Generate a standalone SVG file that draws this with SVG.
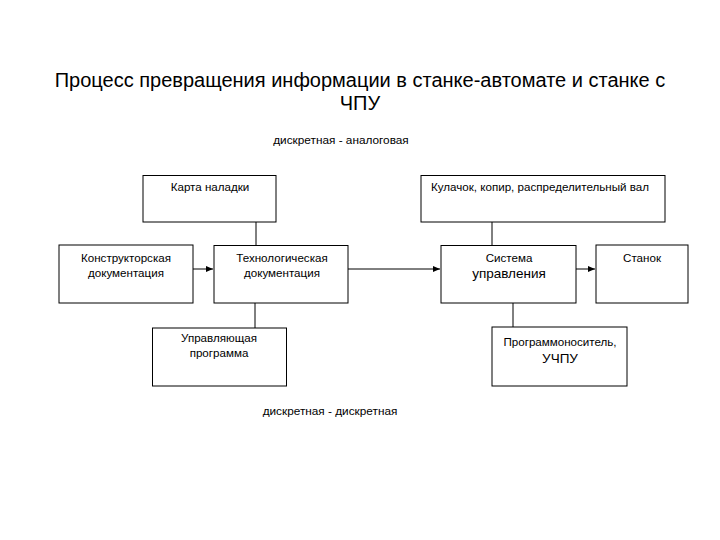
<svg xmlns="http://www.w3.org/2000/svg" width="720" height="540" viewBox="0 0 720 540">
<style>
  .box { fill: #fff; stroke: #000; stroke-width: 1; }
  .t { font-family: "Liberation Sans", Arial, sans-serif; font-size: 11.6px; fill: #000; text-anchor: middle; }
  .lbl { font-family: "Liberation Sans", Arial, sans-serif; font-size: 11.8px; fill: #000; text-anchor: middle; }
  .tl { font-family: "Liberation Sans", Arial, sans-serif; font-size: 13.5px; fill: #000; text-anchor: middle; }
  .title { font-family: "Liberation Sans", Arial, sans-serif; font-size: 20px; fill: #000; text-anchor: middle; }
  .c { stroke: #000; stroke-width: 1; fill: none; }
</style>
<defs>
  <marker id="arr" markerWidth="8" markerHeight="8" refX="7" refY="4" orient="auto" markerUnits="userSpaceOnUse">
    <path d="M0,1 L7,4 L0,7 Z" fill="#000"/>
  </marker>
</defs>
<rect width="720" height="540" fill="#fff"/>
<text class="title" x="360" y="87">Процесс превращения информации в станке-автомате и станке с</text>
<text class="title" x="360" y="110">ЧПУ</text>
<text class="lbl" x="341" y="144">дискретная - аналоговая</text>
<text class="lbl" x="330" y="415">дискретная - дискретная</text>

<g id="connectors">
  <line class="c" x1="256" y1="222" x2="256" y2="246"/>
  <line class="c" x1="193" y1="269" x2="213" y2="269" marker-end="url(#arr)"/>
  <line class="c" x1="255" y1="303" x2="255" y2="328"/>
  <line class="c" x1="348" y1="269" x2="440" y2="269" marker-end="url(#arr)"/>
  <line class="c" x1="492" y1="222" x2="492" y2="246"/>
  <line class="c" x1="576" y1="269" x2="595" y2="269" marker-end="url(#arr)"/>
  <line class="c" x1="513" y1="303" x2="513" y2="327"/>
</g>

<g id="karta">
  <rect class="box" x="143" y="175.5" width="133" height="46.5"/>
  <text class="t" x="210" y="191">Карта наладки</text>
</g>
<g id="kulachok">
  <rect class="box" x="421" y="175.5" width="244" height="46.5"/>
  <text class="t" x="540" y="191">Кулачок, копир, распределительный вал</text>
</g>
<g id="konstr">
  <rect class="box" x="59" y="245" width="134" height="58"/>
  <text class="t" x="126" y="262">Конструкторская</text>
  <text class="t" x="126" y="277">документация</text>
</g>
<g id="tech">
  <rect class="box" x="214" y="245.5" width="134" height="57.5"/>
  <text class="t" x="282" y="262">Технологическая</text>
  <text class="t" x="282" y="277">документация</text>
</g>
<g id="sistema">
  <rect class="box" x="441" y="245.5" width="135" height="57.5"/>
  <text class="t" x="509" y="262">Система</text>
  <text class="tl" x="509" y="278">управления</text>
</g>
<g id="stanok">
  <rect class="box" x="596" y="245" width="92" height="58"/>
  <text class="t" x="642" y="262">Станок</text>
</g>
<g id="upr">
  <rect class="box" x="152.5" y="328" width="134" height="58"/>
  <text class="t" x="219" y="342">Управляющая</text>
  <text class="t" x="219" y="357">программа</text>
</g>
<g id="prog">
  <rect class="box" x="492" y="327" width="135" height="59"/>
  <text class="t" x="560" y="346">Программоноситель,</text>
  <text class="tl" x="560" y="363">УЧПУ</text>
</g>
</svg>
